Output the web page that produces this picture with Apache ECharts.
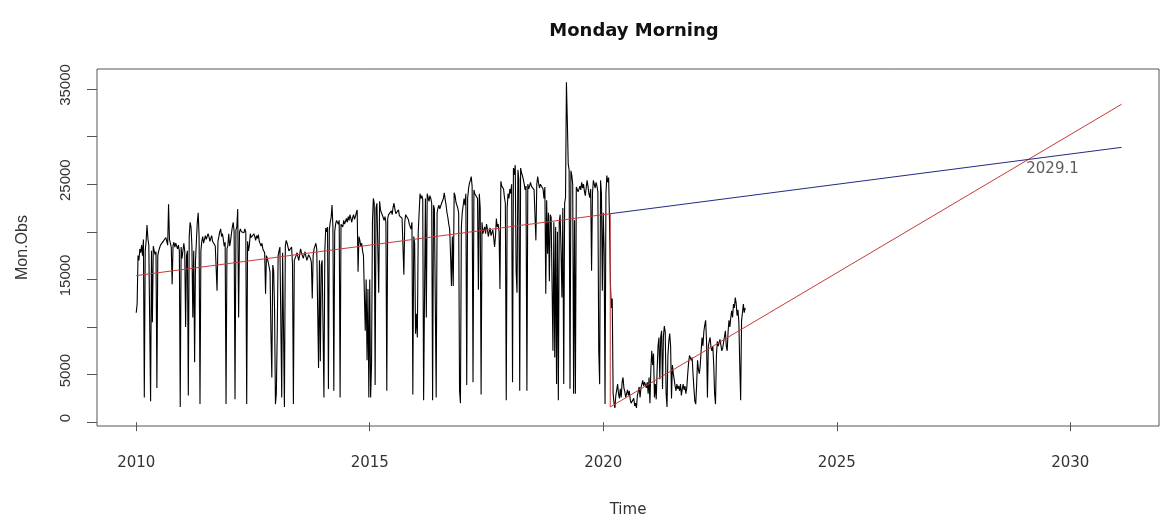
<!DOCTYPE html>
<html>
<head>
<meta charset="utf-8">
<script src="https://cdn.jsdelivr.net/npm/echarts@6/dist/echarts.min.js"></script>
<style>
html,body{margin:0;padding:0;background:#fff;}
#chart{width:1162px;height:519px;}
</style>
</head>
<body>
<div id="chart"></div>
<script>
// Weekly observations (thousands), 52 per year, starting 2010 week 1
const y2010 = [11.5,12.4,17.5,17.0,18.2,17.8,18.6,17.5,19.2,2.6, 18.0,19.0,20.7,19.3,18.6,18.4,2.2,18.0,10.5,18.5, 18.0,17.6,17.9,3.6,17.5,18.0,18.3,18.6,18.8,18.5, 19.0,19.2,18.8,19.4,19.0,18.6,22.9,19.2,18.8,18.4, 14.5,18.6,18.9,18.4,18.8,18.5,18.2,18.6,18.0,1.6, 18.4,17.2];
const y2011 = [17.0,18.8,18.0,10.0,17.5,18.0,2.8,19.5,21.0,20.5, 18.5,11.0,18.0,6.3,17.0,19.0,21.0,22.0,19.5,1.9, 18.0,19.0,19.5,18.8,19.0,19.6,19.2,19.4,19.8,19.5, 19.0,19.3,19.6,19.0,18.8,19.2,18.5,18.7,13.8,19.0, 19.5,20.0,20.3,19.5,19.8,19.2,18.5,18.9,1.9,18.2, 18.5,19.8];
const y2012 = [18.5,19.0,19.8,20.5,21.0,20.0,2.4,20.2,20.5,22.4, 11.0,20.0,20.3,20.0,19.8,20.2,19.9,20.3,20.0,1.9, 19.0,18.0,18.6,19.8,19.4,19.6,19.2,19.8,19.5,19.1, 19.6,19.3,19.7,19.0,18.8,18.5,18.8,18.2,18.4,17.8, 13.5,17.5,17.3,16.8,16.3,15.8,9.3,4.7,16.5,15.9, 12.0,1.9];
const y2013 = [3.0,9.3,17.5,18.0,18.4,18.2,2.6,17.8,18.0,1.6, 18.5,19.1,18.8,18.4,18.0,18.0,18.2,18.4,16.6,1.9, 17.0,17.2,17.5,17.8,17.4,17.0,17.6,18.2,17.8,17.5, 17.2,17.6,17.9,17.4,17.0,17.3,17.6,17.8,17.2,16.8, 13.0,17.5,18.2,18.5,18.8,18.2,18.0,5.7,17.0,6.4, 16.5,17.0];
const y2014 = [17.0,2.6,18.0,20.4,20.0,20.5,3.5,20.2,21.0,21.5, 22.8,20.5,3.3,20.0,20.8,21.2,21.0,20.8,21.2,2.6, 20.8,21.0,20.5,21.2,20.8,21.0,21.4,21.0,21.6,21.2, 21.8,21.4,21.0,21.5,21.8,21.3,21.6,22.0,22.3,15.8, 19.5,19.1,18.5,18.8,18.0,17.5,17.3,9.6,15.0,6.5, 14.0,2.6];
const y2015 = [15.0,2.6,6.0,21.0,23.5,23.0,3.9,22.5,23.0,22.8, 13.6,23.2,22.3,22.0,21.8,21.5,21.2,21.6,21.0,3.3, 21.4,21.8,22.0,21.6,22.2,21.8,22.6,23.0,22.4,21.9, 22.0,21.8,22.3,21.7,21.5,21.9,21.4,21.2,15.5,21.0, 21.8,22.0,21.6,21.3,20.8,20.6,20.3,21.0,2.9,19.5, 18.8,9.3];
const y2016 = [11.4,8.9,20.0,22.0,24.0,23.5,23.8,23.4,2.3,13.2, 23.5,11.0,24.0,23.6,23.2,23.8,23.5,23.0,2.3,22.8, 22.4,22.6,2.6,22.0,22.5,22.8,22.4,22.3,23.0,23.2, 23.5,24.1,23.4,22.8,22.0,21.5,20.8,20.3,17.5,14.3, 19.5,14.3,24.1,23.8,23.1,22.8,22.5,22.0,3.3,2.0, 20.5,22.0];
const y2017 = [22.0,23.5,22.8,24.0,3.9,23.5,24.5,25.1,25.4,25.8, 24.8,4.2,24.4,24.0,24.2,24.0,23.5,13.9,24.0,22.5, 2.9,21.0,19.8,20.2,20.5,19.8,20.8,20.3,19.5,20.0, 20.4,19.6,19.8,20.2,19.4,18.4,19.5,21.4,20.5,20.8, 20.0,14.0,25.3,24.8,25.0,24.5,23.6,23.0,2.3,22.5, 24.0,23.5];
const y2018 = [24.5,24.0,25.0,4.2,26.7,26.0,27.0,15.8,13.6,26.5, 25.5,3.3,26.7,26.2,25.9,25.5,25.0,24.4,24.8,3.3, 25.0,24.5,24.8,25.2,24.8,25.0,24.6,24.4,24.2,19.1, 25.0,25.8,25.1,24.6,25.0,25.2,24.8,24.5,23.5,24.7, 13.5,23.3,17.7,22.0,14.8,21.8,21.5,21.5,7.5,21.0, 6.8,20.5];
const y2019 = [4.0,20.0,2.3,21.0,21.8,18.0,13.1,22.5,4.0,23.0, 23.6,35.7,31.7,27.1,26.5,3.5,26.4,25.9,25.0,3.0, 21.2,3.0,24.7,24.5,24.2,24.0,24.8,24.4,25.2,24.6, 25.0,24.3,23.8,24.6,25.4,24.8,24.0,23.6,24.5,15.9, 24.0,25.4,25.0,24.6,25.2,24.8,24.2,7.5,4.0,25.4, 24.0,13.8];
const y2020 = [22.0,18.0,1.9,24.0,25.9,25.2,25.7,21.0,14.5,12.0, 13.0,3.0,2.0,1.5,2.8,3.0,4.0,3.0,2.5,3.5, 2.6,4.2,4.7,3.6,3.2,2.6,3.0,3.4,2.8,3.3, 2.4,2.0,1.8,2.2,2.5,1.7,2.0,1.5,2.8,3.2, 3.7,2.6,3.6,4.0,4.4,3.8,4.2,4.0,3.6,4.2, 3.0,4.7];
const y2021 = [2.0,5.5,7.5,6.0,7.2,2.6,4.0,2.4,5.5,8.0, 8.9,4.5,9.0,9.6,3.5,9.0,10.1,9.5,3.0,1.6, 7.0,8.5,9.3,8.0,2.5,6.0,5.1,4.5,3.8,3.3, 4.0,3.5,3.8,3.3,4.0,2.8,3.5,4.0,3.4,3.8, 3.0,3.6,5.0,6.2,7.0,7.2,6.5,6.8,5.0,3.5, 2.2,1.9];
const y2022 = [4.0,6.5,5.5,5.1,6.0,7.5,8.9,8.0,9.5,10.2, 10.7,8.5,2.6,8.0,8.5,8.9,7.8,7.5,8.0,6.0, 3.0,1.9,7.0,8.5,8.0,8.2,8.7,8.5,7.5,7.8, 8.0,9.0,9.6,8.0,7.5,9.5,10.7,10.0,11.0,11.7, 11.0,12.4,12.0,13.1,12.5,11.2,11.8,10.5,6.0,2.3, 10.7,11.5];
const y2023 = [12.4,11.5,12.0];

// Fitted lines: [time, value in thousands]
const redTrend = [[2010.0, 15.4], [2020.15, 21.9], [2020.15, 1.6], [2031.1, 33.4]];
const blueTrend = [[2020.15, 21.9], [2031.1, 28.87]];
const crossLabel = "2029.1";
const crossLabelAt = [2029.62, 26.55];

const xTicks = [2010, 2015, 2020, 2025, 2030];
const yTicks = [0, 5000, 10000, 15000, 20000, 25000, 30000, 35000];
const yLabels = [0, 5000, 15000, 25000, 35000];

const startYear = 2010, freq = 52;
const weekly = [].concat(y2010,y2011,y2012,y2013,y2014,y2015,y2016,y2017,y2018,y2019,y2020,y2021,y2022,y2023);
const obs = weekly.map((v, i) => [startYear + i / freq, v * 1000]);
const k = arr => arr.map(p => [p[0], p[1] * 1000]);

const WIDE = "'DejaVu Sans', Verdana, sans-serif";
const NARROW = "'Liberation Sans', Arial, Helvetica, sans-serif";
const chart = echarts.init(document.getElementById('chart'), null, {renderer: 'canvas'});
chart.setOption({
  animation: false,
  backgroundColor: '#ffffff',
  title: {
    text: 'Monday Morning',
    left: 629, top: 17, textAlign: 'center',
    textStyle: {fontFamily: WIDE, fontSize: 18, fontWeight: 'bold', color: '#111'}
  },
  grid: {left: 97, right: 3, top: 69, bottom: 93, containLabel: false, outerBoundsMode: 'none',
         show: true, borderColor: '#555', borderWidth: 1, backgroundColor: 'transparent'},
  xAxis: {
    type: 'value', min: 2009.16, max: 2031.9,
    name: 'Time', nameLocation: 'middle', nameGap: 77,
    nameTextStyle: {fontFamily: WIDE, fontSize: 15, color: '#333'},
    axisLine: {show: false},
    splitLine: {show: false},
    axisTick: {show: true, length: 9, customValues: xTicks, lineStyle: {color: '#555', width: 1}},
    axisLabel: {customValues: xTicks, margin: 30, color: '#333', fontFamily: WIDE, fontSize: 15, formatter: v => String(v)}
  },
  yAxis: {
    type: 'value', min: -400, max: 37100,
    name: 'Mon.Obs', nameLocation: 'middle', nameGap: 66, nameRotate: 90,
    nameTextStyle: {fontFamily: NARROW, fontSize: 16, color: '#333'},
    axisLine: {show: false},
    splitLine: {show: false},
    axisTick: {show: true, length: 10, customValues: yTicks, lineStyle: {color: '#555', width: 1}},
    axisLabel: {customValues: yLabels, rotate: 90, margin: 24, color: '#333', fontFamily: NARROW, fontSize: 15,
                padding: [0, 0, 0, 8], formatter: v => String(v)}
  },
  series: [
    {type: 'line', data: obs, showSymbol: false, symbol: 'none', lineStyle: {color: '#000', width: 1.1}, z: 3},
    {type: 'line', data: k(redTrend), showSymbol: false, symbol: 'none', lineStyle: {color: '#c83a3a', width: 1}, z: 4},
    {type: 'line', data: k(blueTrend), showSymbol: false, symbol: 'none', lineStyle: {color: '#232a86', width: 1}, z: 4},
    {type: 'scatter', data: [[crossLabelAt[0], crossLabelAt[1] * 1000]], symbolSize: 1, itemStyle: {color: 'rgba(0,0,0,0)'}, z: 5,
     label: {show: true, position: 'inside', formatter: crossLabel, color: '#333', fontFamily: WIDE, fontSize: 15}}
  ]
});
</script>
</body>
</html>
